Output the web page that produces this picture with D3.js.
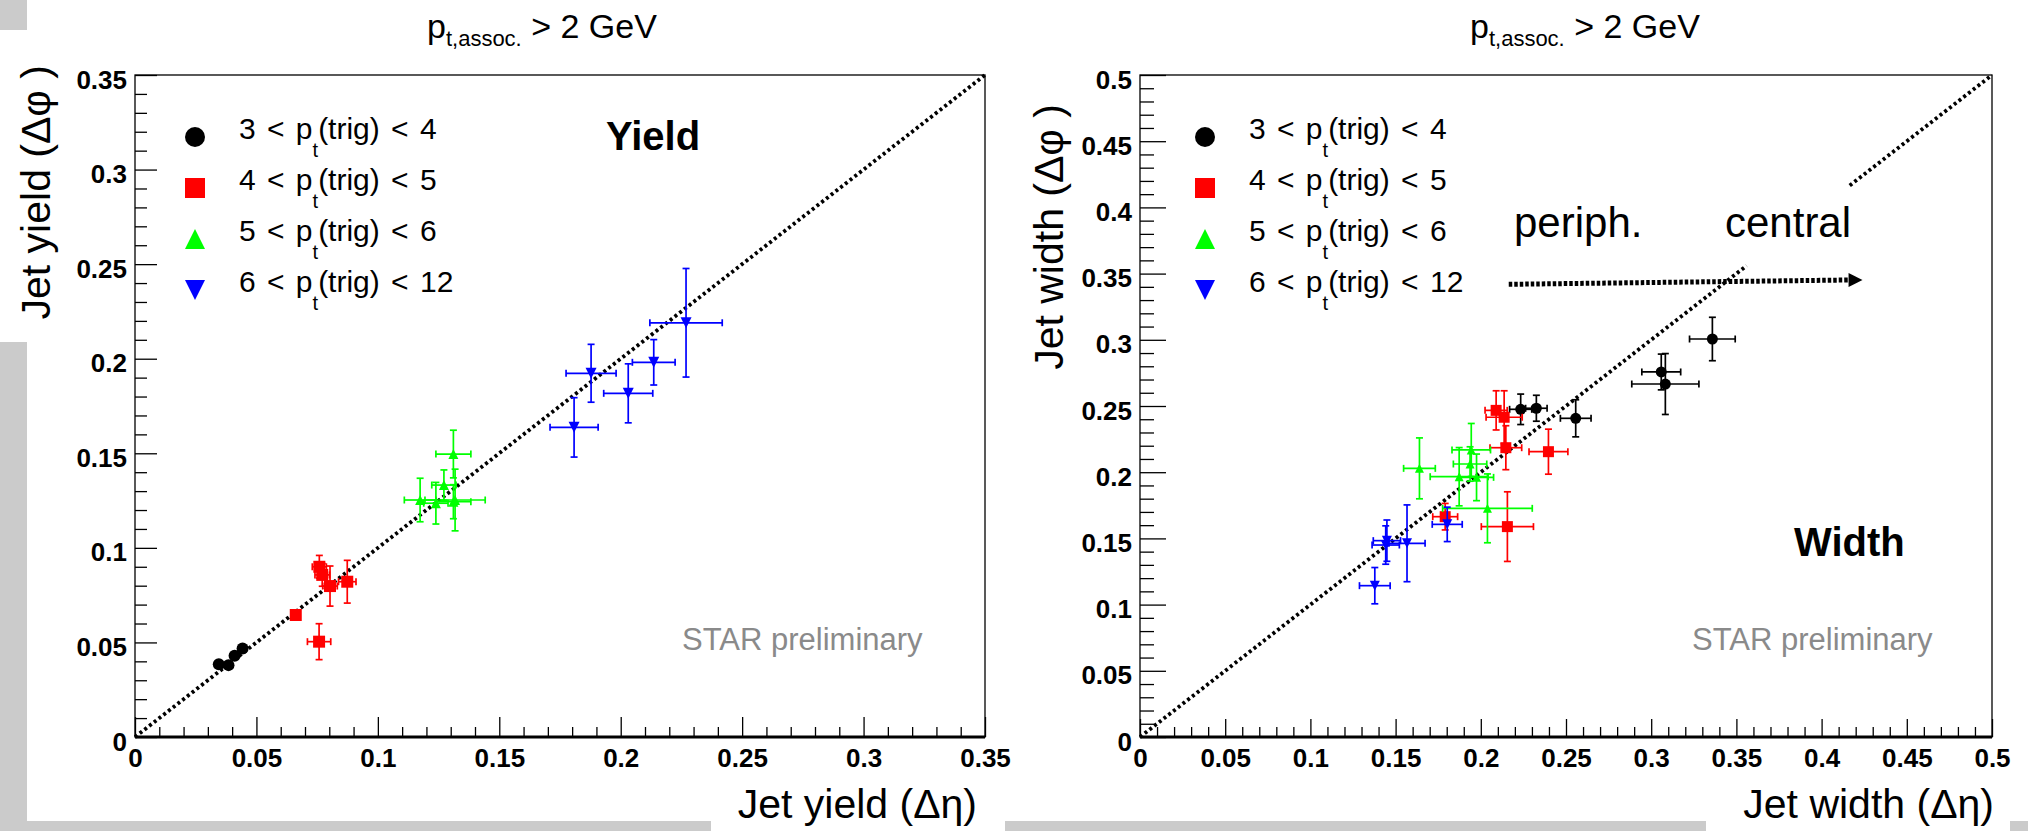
<!DOCTYPE html>
<html><head><meta charset="utf-8">
<script src="https://cdn.jsdelivr.net/npm/d3@7"></script>
<style>
html,body{margin:0;padding:0;background:#fff;overflow:hidden;}
svg{display:block;font-family:"Liberation Sans",Arial,Helvetica,sans-serif;}
</style></head><body>
<svg id="c" width="2028" height="831"></svg>
<script>
// ---------------- DATA ----------------
// trigger bins (legend)
const trigLow  = [3, 4, 5, 6];
const trigHigh = [4, 5, 6, 12];
const binColors  = ["#000000", "#ff0000", "#00ff00", "#0000ff"];
const binMarkers = ["circle", "square", "triangle", "triangleDown"];

// axis ticks
const yieldTicks  = [0, 0.05, 0.1, 0.15, 0.2, 0.25, 0.3, 0.35];
const yieldLabels = ["0", "0.05", "0.1", "0.15", "0.2", "0.25", "0.3", "0.35"];
const widthTicks  = [0, 0.05, 0.1, 0.15, 0.2, 0.25, 0.3, 0.35, 0.4, 0.45, 0.5];
const widthLabels = ["0", "0.05", "0.1", "0.15", "0.2", "0.25", "0.3", "0.35", "0.4", "0.45", "0.5"];

// Yield panel: [x (Δη), y (Δφ), ex, ey]
const yieldBin1 = [[0.0345,0.0385,0.001,0.0015],[0.0385,0.0380,0.001,0.0015],[0.0410,0.0430,0.001,0.0015],[0.0443,0.0468,0.001,0.0015]];
const yieldBin2 = [[0.0759,0.0900,0.0029,0.0060],[0.0771,0.0857,0.0030,0.0060],[0.0803,0.0798,0.0030,0.0106],[0.0874,0.0821,0.0036,0.0113],[0.0662,0.0645,0.0015,0.0020],[0.0758,0.0504,0.0048,0.0095]];
const yieldBin3 = [[0.1311,0.1496,0.0072,0.0126],[0.1272,0.1332,0.0050,0.0080],[0.1174,0.1253,0.0065,0.0115],[0.1239,0.1236,0.0050,0.0110],[0.1318,0.1253,0.0124,0.0163],[0.1311,0.1244,0.0072,0.0090]];
const yieldBin4 = [[0.2269,0.2190,0.0149,0.0287],[0.2136,0.1981,0.0088,0.0120],[0.1878,0.1923,0.0103,0.0153],[0.2031,0.1817,0.0101,0.0156],[0.1808,0.1637,0.0099,0.0157]];

// Width panel: [x (Δη), y (Δφ), ex, ey]
const widthBin1 = [[0.3359,0.3006,0.0134,0.0164],[0.3059,0.2757,0.0114,0.0135],[0.3083,0.2666,0.0197,0.0230],[0.2557,0.2407,0.0090,0.0140],[0.2326,0.2483,0.0063,0.0098],[0.2234,0.2475,0.0065,0.0115]];
const widthBin2 = [[0.2090,0.2467,0.0065,0.0148],[0.2137,0.2415,0.0106,0.0200],[0.2147,0.2185,0.0093,0.0166],[0.2397,0.2155,0.0114,0.0170],[0.1791,0.1664,0.0073,0.0100],[0.2156,0.1589,0.0153,0.0263]];
const widthBin3 = [[0.1640,0.2029,0.0093,0.0230],[0.1944,0.2168,0.0113,0.0200],[0.1937,0.2062,0.0098,0.0130],[0.1873,0.1966,0.0170,0.0220],[0.1975,0.1961,0.0100,0.0176],[0.2039,0.1727,0.0263,0.0260]];
const widthBin4 = [[0.1378,0.1143,0.0090,0.0137],[0.1449,0.1483,0.0080,0.0156],[0.1442,0.1450,0.0080,0.0145],[0.1567,0.1463,0.0106,0.0290],[0.1803,0.1606,0.0088,0.0130]];

// reference lines (y = x) and centrality arrow
const yieldDiagonal  = [[0, 0], [0.35, 0.35]];
const widthDiagonalA = [[0, 0], [0.356, 0.356]];
const widthDiagonalB = [[0.4165, 0.4165], [0.5, 0.5]];
const centralityArrow = [[0.2164, 0.3419], [0.4176, 0.3452]];
const arrowTipX = 0.424;

// ---------------- DRAW ----------------
const svg = d3.select("#c");
const FONT = "'Liberation Sans', Arial, Helvetica, sans-serif";

// slide background artefacts (light grey strips)
const grey = "#cbcbcb";
[[0,0,27,30],[0,342,27,489],[0,821,711,10],[1005,821,701,10],[2010,821,18,10]].forEach(r=>{
  svg.append("rect").attr("x",r[0]).attr("y",r[1]).attr("width",r[2]).attr("height",r[3]).attr("fill",grey);
});

function markerPath(type, w){
  if(type==="circle") return d3.symbol(d3.symbolCircle, Math.PI*w*w/4)();
  if(type==="square") return d3.symbol(d3.symbolSquare, w*w)();
  const h = w*1.0;
  if(type==="triangle") return `M0,${-h/2}L${w/2},${h/2}L${-w/2},${h/2}Z`;
  return `M0,${h/2}L${w/2},${-h/2}L${-w/2},${-h/2}Z`;
}

function panel(cfg){
  const g = svg.append("g");
  const x = d3.scaleLinear().domain([0,cfg.max]).range([cfg.x0,cfg.x1]);
  const y = d3.scaleLinear().domain([0,cfg.max]).range([cfg.yBot,cfg.yTop]);

  // frame
  g.append("rect").attr("x",cfg.x0).attr("y",cfg.yTop)
    .attr("width",cfg.x1-cfg.x0).attr("height",cfg.yBot-cfg.yTop)
    .attr("fill","none").attr("stroke","#000").attr("stroke-width",1.3);

  const nMin = Math.round(cfg.max/0.01);
  const minors = d3.range(0,nMin+1).filter(i=>i%5!==0).map(i=>i*0.01);

  function styleAxis(sel){
    sel.select(".domain").remove();
    sel.selectAll("line").attr("stroke","#000").attr("stroke-width",1.3);
    sel.attr("font-family",FONT).attr("font-size",26).attr("font-weight","bold");
    sel.selectAll("text").attr("fill","#000");
  }
  // x axis
  g.append("g").attr("transform",`translate(0,${cfg.yBot})`)
    .call(d3.axisBottom(x).tickValues(minors).tickSize(-cfg.xMinor).tickFormat(""))
    .call(styleAxis);
  g.append("g").attr("transform",`translate(0,${cfg.yBot})`)
    .call(d3.axisBottom(x).tickValues(cfg.ticks).tickSize(-cfg.xMajor).tickPadding(12)
      .tickFormat((d,i)=>cfg.labels[i]))
    .call(styleAxis);
  // y axis
  g.append("g").attr("transform",`translate(${cfg.x0},0)`)
    .call(d3.axisLeft(y).tickValues(minors).tickSize(-cfg.yMinor).tickFormat(""))
    .call(styleAxis);
  const ya = g.append("g").attr("transform",`translate(${cfg.x0},0)`)
    .call(d3.axisLeft(y).tickValues(cfg.ticks).tickSize(-cfg.yMajor).tickPadding(8)
      .tickFormat((d,i)=>cfg.labels[i]))
    .call(styleAxis);
  ya.selectAll("text").attr("dy","0.5em");
  // thick x axis line
  g.append("line").attr("x1",cfg.x0).attr("x2",cfg.x1).attr("y1",cfg.yBot).attr("y2",cfg.yBot)
    .attr("stroke","#000").attr("stroke-width",3);

  // diagonal dotted lines
  const line = d3.line().x(d=>x(d[0])).y(d=>y(d[1]));
  cfg.diagonals.forEach(seg=>{
    g.append("path").attr("d",line(seg)).attr("fill","none").attr("stroke","#000")
      .attr("stroke-width",3.8).attr("stroke-dasharray","3,3");
  });

  // arrow
  if(cfg.arrow){
    g.append("path").attr("d",line(cfg.arrow)).attr("fill","none").attr("stroke","#000")
      .attr("stroke-width",5).attr("stroke-dasharray","3.5,2");
    const ex = x(cfg.arrow[1][0]), ey = y(cfg.arrow[1][1]), tx = x(cfg.arrowTip);
    g.append("path").attr("d",`M${tx},${ey}L${ex-3},${ey-7}L${ex-3},${ey+7}Z`).attr("fill","#000");
  }

  // data
  cfg.series.forEach((pts,si)=>{
    const col = binColors[si];
    const sg = g.append("g");
    pts.forEach(p=>{
      const cx = x(p[0]), cy = y(p[1]);
      const xl = x(p[0]-p[2]), xr = x(p[0]+p[2]);
      const yt = y(p[1]+p[3]), yb = y(p[1]-p[3]);
      const cap = 3.5;
      const segs = [[xl,cy,xr,cy],[cx,yt,cx,yb],[xl,cy-cap,xl,cy+cap],[xr,cy-cap,xr,cy+cap],
                    [cx-cap,yt,cx+cap,yt],[cx-cap,yb,cx+cap,yb]];
      segs.forEach(s=>{
        sg.append("line").attr("x1",s[0]).attr("y1",s[1]).attr("x2",s[2]).attr("y2",s[3])
          .attr("stroke",col).attr("stroke-width",1.7);
      });
    });
    pts.forEach(p=>{
      sg.append("path").attr("d",markerPath(binMarkers[si], cfg.markerSize[si]))
        .attr("transform",`translate(${x(p[0])},${y(p[1])})`).attr("fill",col);
    });
  });

  // legend
  trigLow.forEach((lo,i)=>{
    const ly = cfg.legendY + i*cfg.legendStep;
    g.append("path").attr("d",markerPath(binMarkers[i],20))
      .attr("transform",`translate(${cfg.legendX},${ly})`).attr("fill",binColors[i]);
    const t = g.append("text").attr("x",cfg.legendX+44).attr("y",ly+2)
      .attr("font-family",FONT).attr("font-size",30).attr("fill","#000")
      .attr("word-spacing",3).attr("xml:space","preserve");
    t.append("tspan").text(`${lo} < p`);
    t.append("tspan").attr("font-size",20).attr("dy",18).text("t");
    t.append("tspan").attr("dy",-18).text(`(trig) < ${trigHigh[i]}`);
  });

  // title
  const tt = g.append("text").attr("x",cfg.titleX).attr("y",38)
    .attr("font-family",FONT).attr("font-size",34).attr("fill","#000");
  tt.append("tspan").text("p");
  tt.append("tspan").attr("font-size",22).attr("dy",8).text("t,assoc.");
  tt.append("tspan").attr("dy",-8).text(" > 2 GeV");

  // big label
  g.append("text").attr("x",cfg.bigX).attr("y",cfg.bigY).attr("font-family",FONT)
    .attr("font-size",40).attr("font-weight","bold").attr("fill","#000").text(cfg.big);
  // STAR preliminary
  g.append("text").attr("x",cfg.starX).attr("y",650).attr("font-family",FONT)
    .attr("font-size",31).attr("fill","#8a8a8a").text("STAR preliminary");

  // axis titles
  g.append("text").attr("x",cfg.xTitleEnd).attr("y",818).attr("text-anchor","end")
    .attr("font-family",FONT).attr("font-size",41).attr("fill","#000").text(cfg.xTitle);
  g.append("text").attr("transform",`translate(${cfg.yTitleX},${cfg.yTitleEnd}) rotate(-90)`)
    .attr("text-anchor","end").attr("font-family",FONT).attr("font-size",41).attr("fill","#000")
    .attr("xml:space","preserve").text(cfg.yTitle);

  if(cfg.extraText){
    cfg.extraText.forEach(e=>{
      g.append("text").attr("x",e[1]).attr("y",e[2]).attr("font-family",FONT)
        .attr("font-size",42).attr("fill","#000").text(e[0]);
    });
  }
}

panel({
  max:0.35, x0:135, x1:985, yTop:75, yBot:737,
  ticks:yieldTicks, labels:yieldLabels,
  xMajor:20, xMinor:10, yMajor:22, yMinor:12,
  series:[yieldBin1,yieldBin2,yieldBin3,yieldBin4],
  markerSize:[12,12,10,11],
  diagonals:[yieldDiagonal],
  legendX:195, legendY:137, legendStep:51,
  titleX:427,
  big:"Yield", bigX:606, bigY:150,
  starX:682,
  xTitle:"Jet yield (\u0394\u03b7)", xTitleEnd:977,
  yTitle:"Jet yield (\u0394\u03c6 )", yTitleX:50, yTitleEnd:65
});

panel({
  max:0.5, x0:1140, x1:1992, yTop:75, yBot:737,
  ticks:widthTicks, labels:widthLabels,
  xMajor:18, xMinor:10, yMajor:26, yMinor:14,
  series:[widthBin1,widthBin2,widthBin3,widthBin4],
  markerSize:[11,11,9,10],
  diagonals:[widthDiagonalA,widthDiagonalB],
  arrow:centralityArrow, arrowTip:arrowTipX,
  legendX:1205, legendY:137, legendStep:51,
  titleX:1470,
  big:"Width", bigX:1794, bigY:556,
  starX:1692,
  xTitle:"Jet width (\u0394\u03b7)", xTitleEnd:1994,
  yTitle:"Jet width (\u0394\u03c6 )", yTitleX:1063, yTitleEnd:104,
  extraText:[["periph.",1514,237],["central",1725,237]]
});
</script>
</body></html>
